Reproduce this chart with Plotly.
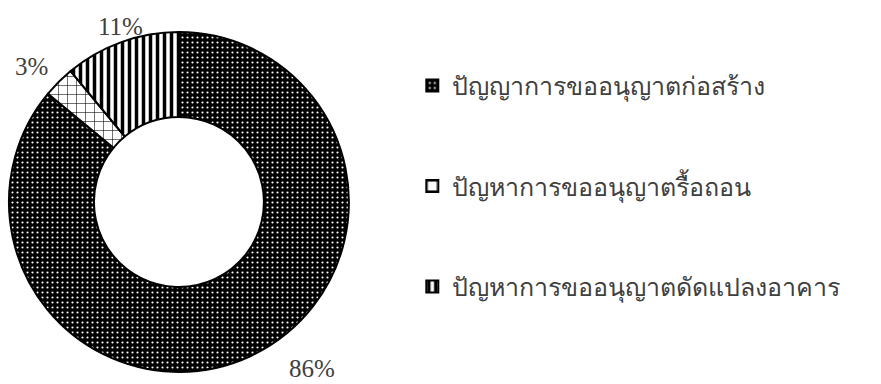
import plotly.graph_objects as go

labels = ["ปัญญาการขออนุญาตก่อสร้าง", "ปัญหาการขออนุญาตรื้อถอน", "ปัญหาการขออนุญาตดัดแปลงอาคาร"]
values = [86, 3, 11]
pct_text = ["86%", "3%", "11%"]

fig = go.Figure()
fig.add_trace(go.Pie(
    labels=["&nbsp;<br>" + l + "<br>&nbsp;" for l in labels],
    values=values,
    hole=0.5,
    sort=False,
    direction="clockwise",
    rotation=0,
    textinfo="none",
    marker=dict(
        colors=["black", "white", "white"],
        line=dict(color="black", width=2),
        pattern=dict(
            shape=[".", "+", "|"],
            fgcolor=["white", "black", "black"],
            bgcolor=["black", "white", "white"],
            fillmode="replace",
            size=[5, 9, 7],
            solidity=[0.15, 0.12, 0.5],
        ),
    ),
    domain=dict(x=[0.0102, 0.396], y=[0.031, 0.917]),
    showlegend=True,
))

ann_pos = [(0.354, 0.04), (0.036, 0.826), (0.137, 0.932)]
for t, (x, y) in zip(pct_text, ann_pos):
    fig.add_annotation(x=x, y=y, xref="paper", yref="paper", text=t, showarrow=False,
                       xanchor="center", yanchor="middle",
                       font=dict(family="Liberation Serif", size=25, color="#404040"))

fig.update_layout(
    width=881, height=384,
    margin=dict(l=0, r=0, t=0, b=0),
    paper_bgcolor="white",
    plot_bgcolor="white",
    legend=dict(x=0.468, y=0.515, xanchor="left", yanchor="middle",
                font=dict(family="Liberation Serif", size=25, color="#404040"),
                valign="middle", itemwidth=30),
)

fig.write_html("out.html")
